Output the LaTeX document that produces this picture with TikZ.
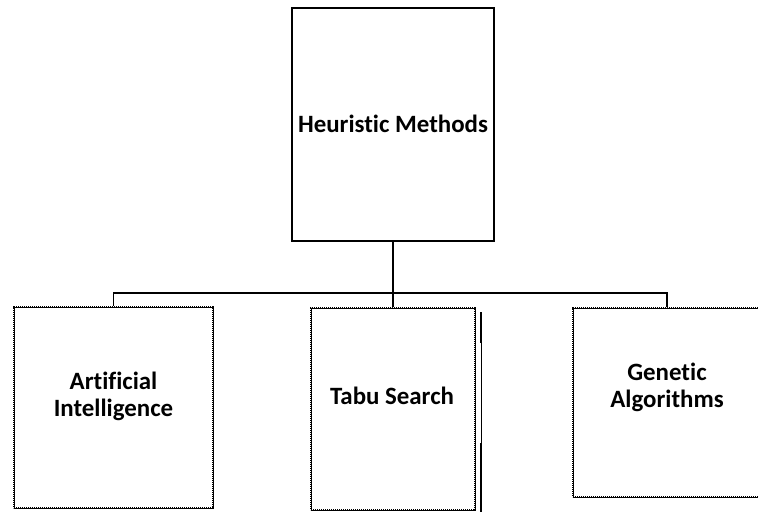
\documentclass[tikz,border=0pt]{standalone}
\usepackage{fontspec}
\setmainfont[Ligatures=NoCommon]{Carlito}
\tikzset{
  topbox/.style={draw,line width=1.2bp,minimum width=202bp,minimum height=233bp,inner sep=0pt},
  subbox/.style={draw,line width=2.4bp,dash pattern=on 1.2bp off 0.8bp,
    preaction={draw,solid,line width=0.8bp},inner sep=0pt},
  lbl/.style={font=\fontsize{25}{27}\selectfont\bfseries,align=center,inner sep=0pt},
  conn/.style={line width=1.6bp}
}
\begin{document}
\begin{tikzpicture}[x=1bp,y=-1bp]
  \useasboundingbox (0,0) rectangle (758,512);
  \node[topbox] (heur) at (393,124.5) {};
  \node[lbl] at (393,124) {Heuristic Methods};
  \node[subbox,minimum width=199bp,minimum height=201bp] (ai) at (113.5,407.5) {};
  \node[lbl] at (113.5,396) {Artificial\\Intelligence};
  \node[subbox,minimum width=164bp,minimum height=202bp] (tabu) at (393,409) {};
  \node[lbl] at (392,396) {Tabu Search};
  \node[subbox,minimum width=188bp,minimum height=189bp] (gen) at (667,402.5) {};
  \node[lbl] at (667,387) {Genetic\\Algorithms};
  % stray edge beside the middle box
  \draw[line width=0.7bp] (481,312) -- (481,512);
  \draw[line width=1.6bp] (481,312) -- (481,343) (481,443) -- (481,512);
  \coordinate (bus) at (393,293);
  \draw[conn] (heur.south) -- (tabu.north);
  \draw[conn] (ai.north) |- (bus) -| (gen.north);
\end{tikzpicture}
\end{document}
